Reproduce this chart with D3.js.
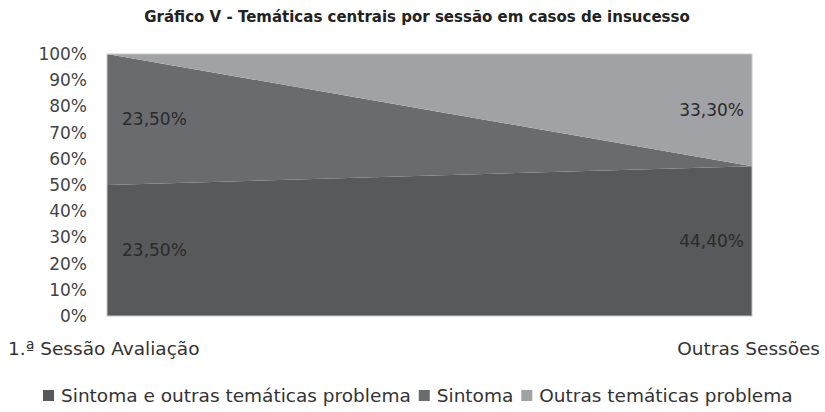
<!DOCTYPE html>
<meta charset="utf-8">
<title>Gráfico V</title>
<style type="text/css">
  body { margin: 0; background: #fff; }
  text { font-family: "DejaVu Sans", sans-serif; }
  .title { font-size: 15px; font-weight: bold; text-anchor: middle; fill: #222; }
  .tick text { font-size: 17px; fill: #444; font-family: "DejaVu Sans", sans-serif; }
  .lbl { font-size: 17px; fill: #2a2a2a; }
  .cat { font-size: 18.5px; fill: #333; }
  .leg text { font-size: 18.5px; fill: #333; }
</style>
<body>
<script src="https://cdn.jsdelivr.net/npm/d3@7"></script>
<script>

// data
var sessions = ["1.ª Sessão Avaliação", "Outras Sessões"];
var seriesNames = ["Sintoma e outras temáticas problema", "Sintoma", "Outras temáticas problema"];
var sintomaOutras = [23.5, 44.4];
var sintoma = [23.5, 0];
var outras = [0, 33.3];
var yTicks = [0, 0.1, 0.2, 0.3, 0.4, 0.5, 0.6, 0.7, 0.8, 0.9, 1];
var colors = ["#58595b", "#6a6b6e", "#a1a2a5"];

var rows = sessions.map(function(s, i) {
  return { session: s, s0: sintomaOutras[i], s1: sintoma[i], s2: outras[i] };
});

var margin = {top: 54, right: 73, bottom: 96, left: 107};
var width = 825 - margin.left - margin.right;
var height = 412 - margin.top - margin.bottom;

var svg = d3.select("body").append("svg")
  .attr("width", 825)
  .attr("height", 412);

svg.append("text")
  .attr("class", "title")
  .attr("x", 417)
  .attr("y", 22)
  .text("Gráfico V - Temáticas centrais por sessão em casos de insucesso");

var g = svg.append("g")
  .attr("transform", "translate(" + margin.left + "," + margin.top + ")");

var x = d3.scalePoint().domain(sessions).range([0, width]);
var y = d3.scaleLinear().domain([0, 1]).range([height, 0]);

var stack = d3.stack()
  .keys(["s0", "s1", "s2"])
  .offset(d3.stackOffsetExpand);
var layers = stack(rows);

var area = d3.area()
  .x(function(d) { return x(d.data.session); })
  .y0(function(d) { return y(d[0]); })
  .y1(function(d) { return y(d[1]); });

g.selectAll("path.layer")
  .data(layers)
  .enter()
  .append("path")
  .attr("class", "layer")
  .attr("d", area)
  .attr("fill", function(d, i) { return colors[i]; });

// plot border
g.append("rect")
  .attr("width", width)
  .attr("height", height)
  .attr("fill", "none")
  .attr("stroke", "#c8c8c8")
  .attr("stroke-width", 1);

// y axis
var yAxis = g.append("g")
  .call(d3.axisLeft(y)
    .tickValues(yTicks)
    .tickFormat(function(d) { return Math.round(d * 100) + "%"; })
    .tickSize(0)
    .tickPadding(20));
yAxis.select(".domain").remove();

// category labels
svg.append("text")
  .attr("class", "cat")
  .attr("x", 8)
  .attr("y", 355)
  .text(sessions[0]);
svg.append("text")
  .attr("class", "cat")
  .attr("x", 820)
  .attr("y", 355)
  .style("text-anchor", "end")
  .text(sessions[1]);

// data labels
var raw = [sintomaOutras, sintoma, outras];
layers.forEach(function(layer, k) {
  layer.forEach(function(d, i) {
    if (raw[k][i] === 0) return;
    var left = i === 0;
    g.append("text")
      .attr("class", "lbl")
      .attr("x", x(d.data.session) + (left ? 15 : -8))
      .attr("y", y((d[0] + d[1]) / 2))
      .attr("dy", "0.35em")
      .style("text-anchor", left ? "start" : "end")
      .text(raw[k][i].toFixed(2).replace(".", ",") + "%");
  });
});

// legend
var legend = svg.append("g").attr("transform", "translate(43,396)");
var lx = 0;
seriesNames.forEach(function(name, i) {
  var item = legend.append("g")
    .attr("class", "leg")
    .attr("transform", "translate(" + lx + ",0)");
  item.append("rect")
    .attr("x", 0)
    .attr("y", -6)
    .attr("width", 11)
    .attr("height", 11)
    .attr("fill", colors[i]);
  var t = item.append("text")
    .attr("x", 18)
    .attr("dy", "0.35em")
    .text(name);
  lx += 18 + t.node().getComputedTextLength() + 8;
});

</script>
</body>
